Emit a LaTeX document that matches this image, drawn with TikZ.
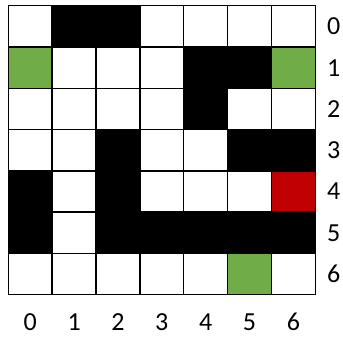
\documentclass[tikz,border=0pt]{standalone}
\usepackage{fontspec}
\setmainfont{Carlito}
\usetikzlibrary{positioning}

\definecolor{goalgreen}{HTML}{70AD47}
\definecolor{startred}{HTML}{C00000}
\newcommand{\lblfont}{\fontsize{26pt}{30pt}\selectfont}

\begin{document}
\begin{tikzpicture}[
    x=1pt, y=-1pt,
    lbl/.style={font=\lblfont, inner sep=0pt},
    wall/.style={fill=black},
    goal/.style={fill=goalgreen},
    start/.style={fill=startred},
    gridline/.style={line width=1.5pt, black, line cap=rect}
]

    % page frame
    \useasboundingbox (0,0) rectangle (343,338);

    \begin{scope}[shift={(8.3,5.7)}, x=43.86pt, y=-41.29pt]
        % walls (row/col)
        \foreach \r/\c in {0/1,0/2,1/4,1/5,2/4,3/2,3/5,3/6,
                           4/0,4/2,5/0,5/2,5/3,5/4,5/5,5/6}
            \fill[wall] (\c,\r) rectangle ++(1,1);

        % targets and start
        \foreach \r/\c in {1/0,1/6,6/5}
            \fill[goal] (\c,\r) rectangle ++(1,1);
        \fill[start] (6,4) rectangle ++(1,1);

        % grid
        \foreach \i in {0,...,7} {
            \draw[gridline] (\i,0) -- (\i,7);
            \draw[gridline] (0,\i) -- (7,\i);
        }

        % row labels
        \foreach \r in {0,...,6}
            \node[lbl] (row\r) at (7.42,\r+0.5) {\lblfont\r};

        % column labels
        \foreach \c in {0,...,6}
            \node[lbl] (col\c) at (\c+0.5,7.66) {\lblfont\c};
    \end{scope}

\end{tikzpicture}
\end{document}
